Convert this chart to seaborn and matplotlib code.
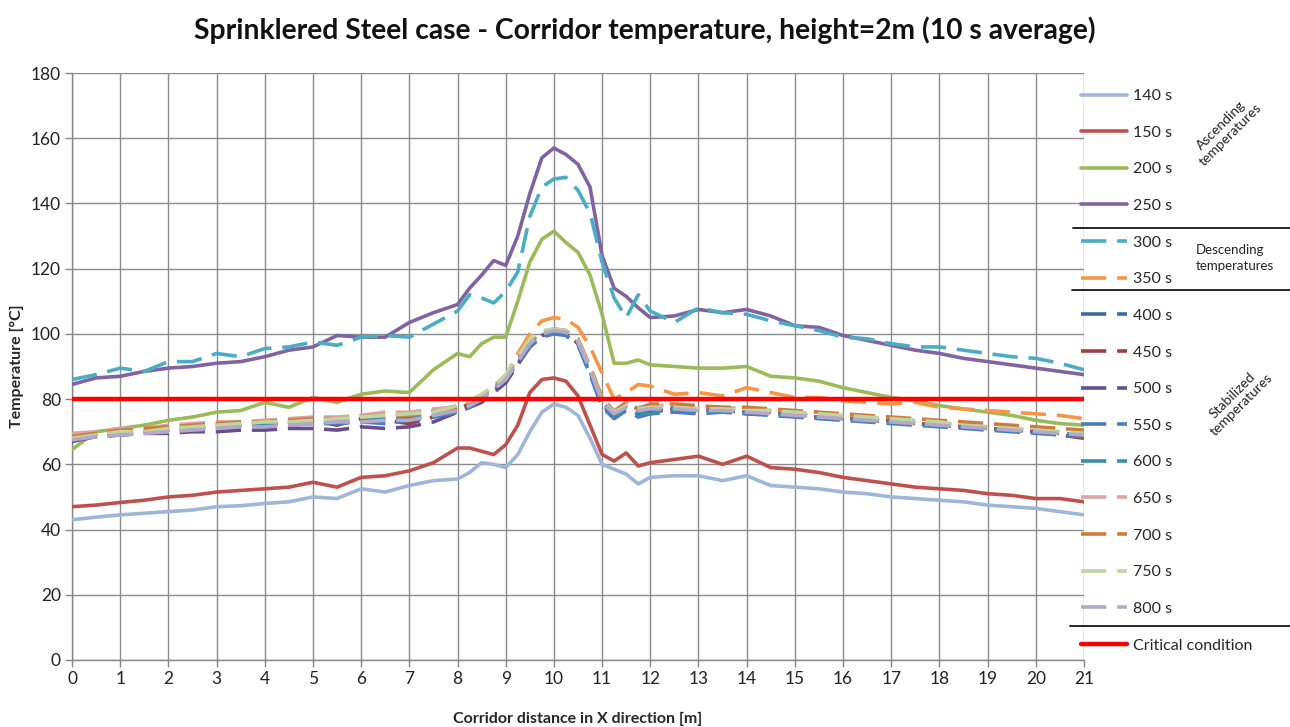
import numpy as np
import pandas as pd
import matplotlib
matplotlib.use("Agg")
import matplotlib.pyplot as plt
import seaborn as sns
from matplotlib.lines import Line2D

# ---------------- data ----------------
x_m = [0, 0.5, 1, 1.5, 2, 2.5, 3, 3.5, 4, 4.5, 5, 5.5, 6, 6.5, 7, 7.5, 8,
       8.25, 8.5, 8.75, 9, 9.25, 9.5, 9.75, 10, 10.25, 10.5, 10.75, 11, 11.25, 11.5, 11.75, 12,
       12.5, 13, 13.5, 14, 14.5, 15, 15.5, 16, 16.5, 17, 17.5, 18, 18.5, 19, 19.5, 20, 20.5, 21]

t140 = [43, 43.8, 44.5, 45, 45.5, 46, 47, 47.3, 48, 48.5, 50, 49.5, 52.5, 51.5, 53.5, 55, 55.5,
        57.5, 60.5, 60, 59, 63, 70, 76, 78.5, 77.5, 75, 68, 60, 58.5, 57, 54, 56,
        56.5, 56.5, 55, 56.5, 53.5, 53, 52.5, 51.5, 51, 50, 49.5, 49, 48.5, 47.5, 47, 46.5, 45.5, 44.5]
t150 = [47, 47.5, 48.3, 49, 50, 50.5, 51.5, 52, 52.5, 53, 54.5, 53, 56, 56.5, 58, 60.5, 65,
        65, 64, 63, 66, 72, 82, 86, 86.5, 85.5, 81, 72, 63, 61, 63.5, 59.5, 60.5,
        61.5, 62.5, 60, 62.5, 59, 58.5, 57.5, 56, 55, 54, 53, 52.5, 52, 51, 50.5, 49.5, 49.5, 48.5]
t200 = [64.5, 70, 71, 72, 73.5, 74.5, 76, 76.5, 79, 77.5, 80.5, 79, 81.5, 82.5, 82, 89, 94,
        93, 97, 99, 99, 110, 122, 129, 131.5, 128, 125, 118, 106, 91, 91, 92, 90.5,
        90, 89.5, 89.5, 90, 87, 86.5, 85.5, 83.5, 82, 80.5, 79.5, 78, 77, 76, 75, 73.5, 72.5, 72]
t250 = [84.5, 86.5, 87, 88.5, 89.5, 90, 91, 91.5, 93, 95, 96, 99.5, 99, 99, 103.5, 106.5, 109,
        114, 118, 122.5, 121, 130, 143, 154, 157, 155, 152, 145, 124, 114, 111.5, 108, 105,
        105.5, 107.5, 106.5, 107.5, 105.5, 102.5, 102, 99.5, 98, 96.5, 95, 94, 92.5, 91.5, 90.5, 89.5, 88.5, 87.5]
t300 = [86, 87.5, 89.5, 88.5, 91.5, 91.5, 94, 93, 95.5, 96, 97.5, 96.5, 99, 99.5, 99, 103, 107,
        112, 111, 109.5, 113, 119, 136, 145, 147.5, 148, 144, 137, 122, 111, 105, 112, 107,
        103.5, 108, 106.5, 106, 104, 102.5, 101, 99, 98.5, 97, 96, 96, 95, 94, 93, 92.5, 91, 89]
t350 = [69, 69.5, 70.5, 70.5, 71.5, 72, 72.5, 72.5, 73.5, 73, 74, 74, 75, 75.5, 75, 76.5, 78,
        79, 81, 84, 87, 94, 100, 104, 105, 104.5, 102, 96, 88, 80, 82, 84.5, 84,
        81.5, 82, 81, 83.5, 82, 80.5, 80.5, 79.5, 79, 78.5, 79, 77.5, 77, 76.5, 76, 75.5, 75, 74]
t400 = [68, 69, 69.5, 70, 70.5, 71, 71.5, 71.5, 72, 72.5, 73, 72.5, 73.5, 73, 74, 75, 76.5,
        78, 80.5, 83, 86, 91.5, 96.5, 99.5, 100.5, 100, 97, 88, 78, 74.5, 77, 75.5, 76,
        76.5, 76, 76.5, 75.5, 75.5, 75, 74.5, 74, 73.5, 73, 72.5, 72, 71.5, 71, 70.5, 70, 69, 68.5]
t450 = [68.5, 69, 70, 70.5, 71, 71.5, 72, 72, 72.5, 72.5, 73.5, 72, 74, 73.5, 72.5, 74.5, 77,
        78.5, 80, 82.5, 85.5, 91, 96, 99.5, 100.5, 100, 97.5, 89, 79, 75.5, 78.5, 77, 77.5,
        77, 76.5, 77, 76, 76, 75, 74.5, 74.5, 73.5, 73.5, 72.5, 72, 71.5, 71, 70.5, 70, 69, 68]
t500 = [67, 68.5, 69, 69.5, 69.5, 70, 70, 70.5, 70.5, 71, 71, 70.5, 71.5, 71, 71.5, 73, 76,
        77.5, 79, 82, 85, 90.5, 96, 99.5, 100.5, 100, 97, 88.5, 79, 76, 77.5, 76.5, 76.5,
        76.5, 77, 76, 76.5, 76, 75.5, 74.5, 74, 73.5, 73, 72.5, 72, 71.5, 71, 70.5, 70, 69.5, 68.5]
t550 = [67.5, 68.5, 69, 69.5, 70.5, 70.5, 71, 71.5, 72, 72, 72.5, 72.5, 73, 72.5, 73.5, 74.5, 76,
        77.5, 80, 83, 86, 91, 96, 99, 100, 99.5, 96.5, 87.5, 77.5, 74, 76.5, 74.5, 75.5,
        76, 75.5, 76, 75.5, 75, 74.5, 74, 73.5, 73, 72.5, 72, 71.5, 71, 70.5, 70, 69.5, 69, 68.5]
t600 = [68, 69, 69.5, 70, 70.5, 71, 71.5, 72, 72.5, 73, 73, 73, 73.5, 74, 74, 75, 76.5,
        78, 80.5, 83.5, 86.5, 92, 97, 100, 101, 100.5, 97.5, 88.5, 78.5, 75, 77, 76, 75.5,
        77.5, 77, 76.5, 76, 76, 75, 74.5, 74, 73.5, 73, 72.5, 72, 71.5, 71, 70.5, 70, 69.5, 69]
t650 = [69.5, 70, 71, 71, 72, 72.5, 73, 73, 73.5, 74, 74.5, 74.5, 75, 76, 76, 77, 77.5,
        79, 81, 84, 87, 92.5, 97.5, 100.5, 101.5, 101, 98, 90, 80, 76.5, 79, 77.5, 78,
        78, 77, 77.5, 77, 76.5, 75.5, 75, 74.5, 74, 73.5, 73, 72.5, 72, 71.5, 71, 70.5, 70, 69.5]
t700 = [68.5, 69.5, 70.5, 71, 71.5, 72, 72.5, 73, 73, 73.5, 74, 74, 74.5, 75, 75, 76, 77,
        78.5, 81, 84, 87, 92.5, 97.5, 100.5, 101.5, 101, 98.5, 90, 80.5, 76, 79, 77, 78.5,
        78.5, 78, 77.5, 77.5, 77, 76.5, 76, 75.5, 75, 74.5, 74, 73.5, 73, 72.5, 72, 71.5, 71, 70.5]
t750 = [68, 69, 70, 70, 71, 71.5, 72, 72.5, 73, 73, 73.5, 74, 74.5, 75, 75.5, 76, 78,
        79.5, 81.5, 84, 87.5, 93, 98.5, 101, 101.5, 101, 98, 89.5, 79.5, 76, 78, 77, 77.5,
        77.5, 77, 77, 76.5, 76.5, 76, 75.5, 75, 74.5, 74, 73.5, 73, 72, 71.5, 71, 70.5, 70, 69.5]
t800 = [67.5, 68.5, 69, 69.5, 70, 70.5, 71, 71.5, 71.5, 72, 72.5, 73, 73, 73.5, 73.5, 75, 76.5,
        78, 80, 83, 86, 91.5, 97, 100, 101, 100.5, 97.5, 89, 79, 75.5, 77.5, 76.5, 77,
        77, 76.5, 76.5, 76, 75.5, 75, 74.5, 74, 73.5, 73, 72.5, 72, 71.5, 71, 70.5, 70, 69.5, 69]

series_labels = ["140 s", "150 s", "200 s", "250 s", "300 s", "350 s", "400 s", "450 s",
                 "500 s", "550 s", "600 s", "650 s", "700 s", "750 s", "800 s"]
series_values = [t140, t150, t200, t250, t300, t350, t400, t450,
                 t500, t550, t600, t650, t700, t750, t800]
series_colors = ["#9FB6D9", "#C0504D", "#9BBB59", "#8064A2", "#4BACC6", "#F79646",
                 "#3A6BA5", "#A33F3A", "#674E8E", "#4A7EC0", "#3A8FA6", "#DBA3A2",
                 "#CF7C3B", "#BFD6A0", "#B5A8CB"]
critical_value = 80
critical_label = "Critical condition"

y_ticks = list(range(0, 181, 20))
x_ticks = list(range(0, 22))

# ---------------- figure ----------------
sns.set_theme(style="white")
plt.rcParams['font.family'] = ['Lato', 'DejaVu Sans']

W, H = 1290, 727
fig = plt.figure(figsize=(W / 100, H / 100), dpi=100)
ax = fig.add_axes([72 / W, 1 - 660 / H, (1084 - 72) / W, (660 - 73) / H])

dash = (0, (7.0, 3.0))
for i, (lab, vals, col) in enumerate(zip(series_labels, series_values, series_colors)):
    df = pd.DataFrame({"x": x_m, "y": vals})
    ls = "-" if i < 4 else dash
    sns.lineplot(data=df, x="x", y="y", ax=ax, color=col, lw=2.6, linestyle=ls,
                 label=lab, legend=False, sort=True, estimator=None, zorder=3 + i * 0.01)

ax.axhline(critical_value, color="#FF0000", lw=3.2, zorder=5, label=critical_label)

ax.set_xlim(0, 21)
ax.set_ylim(0, 180)
ax.set_xticks(x_ticks)
ax.set_yticks(y_ticks)
ax.grid(True, color="#8C8C8C", lw=1.0)
ax.set_axisbelow(True)
for s in ["top", "right"]:
    ax.spines[s].set_visible(False)
for s in ["left", "bottom"]:
    ax.spines[s].set_color("#868686")
    ax.spines[s].set_linewidth(1.0)
ax.tick_params(axis="both", which="major", direction="out", length=5, width=1,
               color="#868686", labelsize=12.5, labelcolor="#222222", pad=3,
               bottom=True, left=True)

ax.set_xlabel("Corridor distance in X direction [m]", fontsize=11.5, fontweight="bold",
              labelpad=18)
ax.set_ylabel("Temperature [°C]", fontsize=11.5, fontweight="bold", labelpad=5)

fig.text(0.5, 1 - 30 / H, "Sprinklered Steel case - Corridor temperature, height=2m (10 s average)",
         ha="center", va="center", fontsize=20.3, fontweight="bold", color="#111111")

# legend
handles = ax.get_lines()
handles = [h for h in handles if h.get_label() in series_labels + [critical_label]]
order = series_labels + [critical_label]
handles = sorted(handles, key=lambda h: order.index(h.get_label()))
leg = fig.legend(handles=handles, labels=[h.get_label() for h in handles],
                 loc="upper left", bbox_to_anchor=(1081 / W, 1 - 89 / H),
                 frameon=False, fontsize=11.5, handlelength=2.9, handletextpad=0.35,
                 labelspacing=1.405, borderpad=0, borderaxespad=0)

# separators
for ysep, x0 in [(228, 1073), (290, 1072), (626, 1070)]:
    fig.add_artist(Line2D([x0 / W, 1.0], [1 - ysep / H, 1 - ysep / H],
                          color="black", lw=1.2, transform=fig.transFigure))

fig.text(1226 / W, 1 - 130 / H, "Ascending\ntemperatures", rotation=45, ha="center",
         va="center", fontsize=10, color="#222222", rotation_mode="anchor", linespacing=1.1)
fig.text(1196 / W, 1 - 258 / H, "Descending\ntemperatures", ha="left", va="center",
         fontsize=9.5, color="#222222", linespacing=1.5)
fig.text(1237 / W, 1 - 400 / H, "Stabilized\ntemperatures", rotation=45, ha="center",
         va="center", fontsize=10, color="#222222", rotation_mode="anchor", linespacing=1.1)

fig.savefig("out.png", dpi=100)
